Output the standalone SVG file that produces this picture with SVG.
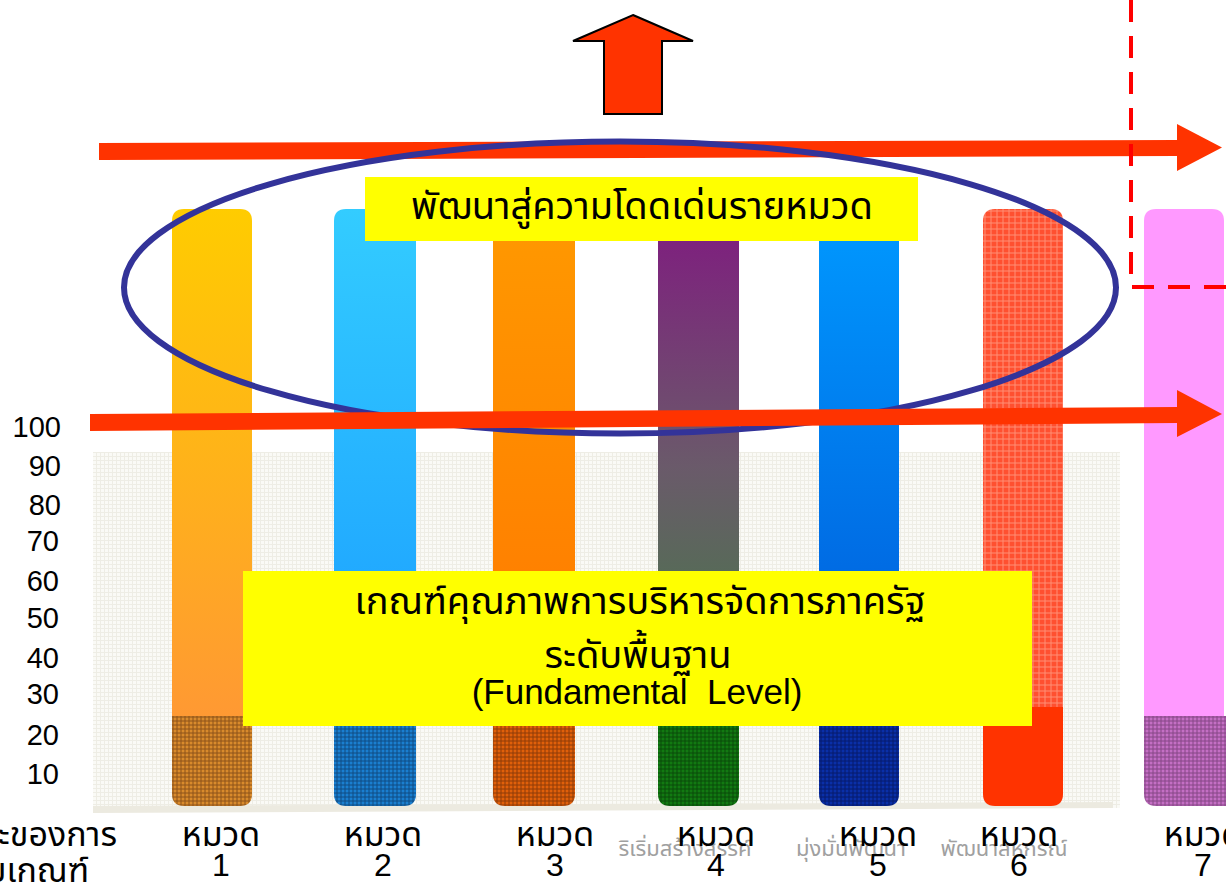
<svg xmlns="http://www.w3.org/2000/svg" width="1226" height="882" viewBox="0 0 1226 882">
<style>
.th{font-family:"Liberation Sans","Noto Sans Thai","Loma","Garuda",sans-serif;fill:#000}
.ax{font-family:"Liberation Sans",Arial,sans-serif;font-size:29px;fill:#000;text-anchor:end}
.lbl{font-family:"Liberation Sans","Noto Sans Thai",sans-serif;font-size:34px;fill:#000;text-anchor:middle}
.num{font-family:"Liberation Sans",Arial,sans-serif;font-size:32px;fill:#000;text-anchor:middle}
.wm{font-family:"Liberation Sans","Noto Sans Thai",sans-serif;font-size:22px;fill:#a0a0a0;text-anchor:middle}
.red{fill:#FF3300}
</style>
<defs>
<pattern id="bggrid" width="4" height="4" patternUnits="userSpaceOnUse">
<rect width="4" height="4" fill="#FAFAF6"/>
<path d="M0 0.5H4M0.5 0V4" stroke="#EEEDE5" stroke-width="1"/>
</pattern>
<pattern id="p1" width="8" height="8" patternUnits="userSpaceOnUse"><rect width="8" height="8" fill="#D98A2C"/><path d="M0 1H8M1 0V8M0 5H8M5 0V8" stroke="#6B3A10" stroke-width="1" opacity="0.7"/></pattern>
<pattern id="p2" width="8" height="8" patternUnits="userSpaceOnUse"><rect width="8" height="8" fill="#1A7FD0"/><path d="M0 1H8M1 0V8M0 5H8M5 0V8" stroke="#0A3560" stroke-width="1" opacity="0.7"/></pattern>
<pattern id="p3" width="8" height="8" patternUnits="userSpaceOnUse"><rect width="8" height="8" fill="#E0600A"/><path d="M0 1H8M1 0V8M0 5H8M5 0V8" stroke="#6A2A05" stroke-width="1" opacity="0.7"/></pattern>
<pattern id="p4" width="8" height="8" patternUnits="userSpaceOnUse"><rect width="8" height="8" fill="#117A11"/><path d="M0 1H8M1 0V8M0 5H8M5 0V8" stroke="#053505" stroke-width="1" opacity="0.7"/></pattern>
<pattern id="p5" width="8" height="8" patternUnits="userSpaceOnUse"><rect width="8" height="8" fill="#0A2FA8"/><path d="M0 1H8M1 0V8M0 5H8M5 0V8" stroke="#021050" stroke-width="1" opacity="0.7"/></pattern>
<pattern id="p6" width="6" height="6" patternUnits="userSpaceOnUse"><rect width="6" height="6" fill="#FF5030"/><path d="M0 1H6M1 0V6" stroke="#FF9E85" stroke-width="1" opacity="0.8"/></pattern>
<pattern id="p7" width="8" height="8" patternUnits="userSpaceOnUse"><rect width="8" height="8" fill="#C46FC4"/><path d="M0 1H8M1 0V8M0 5H8M5 0V8" stroke="#5A2A5A" stroke-width="1" opacity="0.6"/></pattern>
<linearGradient id="g1" x1="0" y1="0" x2="0" y2="1"><stop offset="0" stop-color="#FFCC00"/><stop offset="1" stop-color="#FF9933"/></linearGradient>
<linearGradient id="g2" x1="0" y1="0" x2="0" y2="1"><stop offset="0" stop-color="#33CCFF"/><stop offset="1" stop-color="#1A9CFF"/></linearGradient>
<linearGradient id="g3" x1="0" y1="0" x2="0" y2="1"><stop offset="0" stop-color="#FF9900"/><stop offset="1" stop-color="#FF7700"/></linearGradient>
<linearGradient id="g4" x1="0" y1="0" x2="0" y2="1"><stop offset="0" stop-color="#801A80"/><stop offset="0.5" stop-color="#6A5A6A"/><stop offset="1" stop-color="#3E8040"/></linearGradient>
<linearGradient id="g5" x1="0" y1="0" x2="0" y2="1"><stop offset="0" stop-color="#0099FF"/><stop offset="1" stop-color="#0058D8"/></linearGradient>
</defs>

<g id="chart-bg">
<rect x="93" y="452" width="1027" height="356" fill="url(#bggrid)"/>
<path d="M93 806 L1113 802 L1113 808 L93 813 Z" fill="#ECEAE0"/>
</g>

<g id="axis-labels">
<text class="ax" x="61" y="437">100</text>
<text class="ax" x="61" y="476">90</text>
<text class="ax" x="61" y="515">80</text>
<text class="ax" x="59" y="551">70</text>
<text class="ax" x="59" y="591">60</text>
<text class="ax" x="59" y="628">50</text>
<text class="ax" x="59" y="668">40</text>
<text class="ax" x="59" y="704">30</text>
<text class="ax" x="59" y="745">20</text>
<text class="ax" x="59" y="784">10</text>
</g>

<g id="bar1">
<path d="M172 221 Q172 209 184 209 H240 Q252 209 252 221 V716 H172 Z" fill="url(#g1)"/>
<path d="M172 716 H252 V794 Q252 806 240 806 H184 Q172 806 172 794 Z" fill="url(#p1)"/>
</g>
<g id="bar2">
<path d="M334 221 Q334 209 346 209 H404 Q416 209 416 221 V725 H334 Z" fill="url(#g2)"/>
<path d="M334 725 H416 V794 Q416 806 404 806 H346 Q334 806 334 794 Z" fill="url(#p2)"/>
</g>
<g id="bar3">
<path d="M493 221 Q493 209 505 209 H563 Q575 209 575 221 V725 H493 Z" fill="url(#g3)"/>
<path d="M493 725 H575 V794 Q575 806 563 806 H505 Q493 806 493 794 Z" fill="url(#p3)"/>
</g>
<g id="bar4">
<path d="M658 221 Q658 209 670 209 H727 Q739 209 739 221 V725 H658 Z" fill="url(#g4)"/>
<path d="M658 725 H739 V794 Q739 806 727 806 H670 Q658 806 658 794 Z" fill="url(#p4)"/>
</g>
<g id="bar5">
<path d="M819 221 Q819 209 831 209 H887 Q899 209 899 221 V725 H819 Z" fill="url(#g5)"/>
<path d="M819 725 H899 V794 Q899 806 887 806 H831 Q819 806 819 794 Z" fill="url(#p5)"/>
</g>
<g id="bar6">
<path d="M983 221 Q983 209 995 209 H1051 Q1063 209 1063 221 V707 H983 Z" fill="url(#p6)"/>
<path d="M983 707 H1063 V794 Q1063 806 1051 806 H995 Q983 806 983 794 Z" fill="#FF3300"/>
</g>
<g id="bar7">
<path d="M1144 221 Q1144 209 1156 209 H1212 Q1224 209 1224 221 V716 H1144 Z" fill="#FF99FF"/>
<path d="M1144 716 H1226 V806 H1156 Q1144 806 1144 794 Z" fill="url(#p7)"/>
</g>

<g id="connectors">
<polygon id="arrow-top" class="red" points="99,143 1177,140 1177,124 1222,147.5 1177,171 1177,156 99,160"/>
<ellipse id="ellipse" cx="620" cy="287.5" rx="496" ry="146" fill="none" stroke="#333399" stroke-width="6"/>
<polygon id="arrow-mid" class="red" points="90,414 1177,407 1177,390 1222,414 1177,437 1177,423 90,431"/>
<polyline id="dashed" points="1131,0 1131,287 1226,287" fill="none" stroke="#FF0000" stroke-width="4" stroke-dasharray="22,14"/>
</g>

<g id="up-arrow">
<polygon points="633,15 693,41 662,41 662,114 604,114 604,41 573,41" fill="#FF3300" stroke="#000" stroke-width="2"/>
</g>

<g id="label-top">
<rect x="365" y="177" width="553" height="64" fill="#FFFF00"/>
<text class="th" x="642" y="219" font-size="38" text-anchor="middle">พัฒนาสู่ความโดดเด่นรายหมวด</text>
</g>

<g id="label-mid">
<rect x="243" y="571" width="789" height="155" fill="#FFFF00"/>
<text class="th" x="640" y="614" font-size="38" text-anchor="middle">เกณฑ์คุณภาพการบริหารจัดการภาครัฐ</text>
<text class="th" x="638" y="668" font-size="38" text-anchor="middle">ระดับพื้นฐาน</text>
<text class="th" x="637" y="704" font-size="35" text-anchor="middle" xml:space="preserve">(Fundamental  Level)</text>
</g>

<g id="watermarks">
<text class="wm" x="685" y="856">ริเริ่มสร้างสรรค์</text>
<text class="wm" x="851" y="856">มุ่งมั่นพัฒนา</text>
<text class="wm" x="1004" y="856">พัฒนาสหกรณ์</text>
</g>

<g id="bottom-labels">
<text class="th" x="117" y="846" font-size="34" text-anchor="end">ะของการ</text>
<text class="th" x="89" y="882" font-size="34" text-anchor="end">มเกณฑ์</text>
<text class="lbl" x="221" y="846">หมวด</text><text class="num" x="221" y="876">1</text>
<text class="lbl" x="383" y="846">หมวด</text><text class="num" x="383" y="876">2</text>
<text class="lbl" x="555" y="846">หมวด</text><text class="num" x="555" y="876">3</text>
<text class="lbl" x="716" y="846">หมวด</text><text class="num" x="716" y="876">4</text>
<text class="lbl" x="878" y="846">หมวด</text><text class="num" x="878" y="876">5</text>
<text class="lbl" x="1019" y="846">หมวด</text><text class="num" x="1019" y="876">6</text>
<text class="lbl" x="1203" y="846">หมวด</text><text class="num" x="1203" y="876">7</text>
</g>
</svg>
